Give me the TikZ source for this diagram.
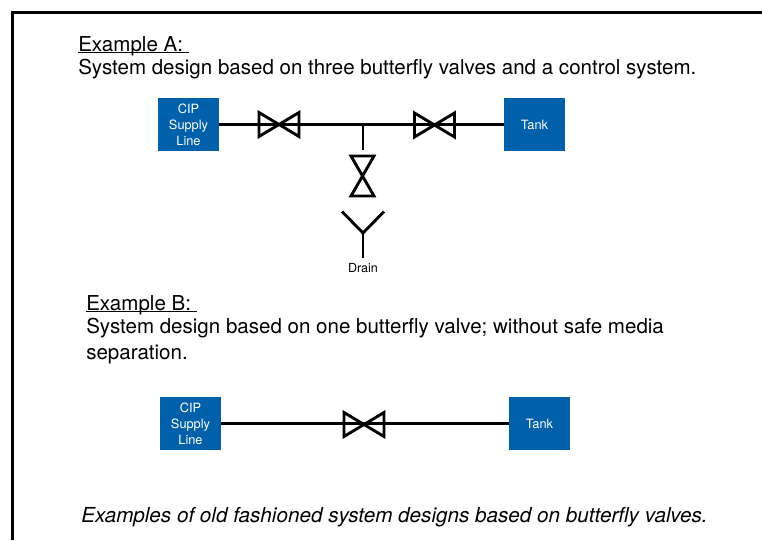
\documentclass[tikz,border=0pt]{standalone}
\usepackage{fontspec}
\setmainfont{TeX Gyre Heros}
\definecolor{boxblue}{RGB}{0,96,170}
\newsavebox{\ulbox}
\newcommand{\ulhead}[1]{\sbox{\ulbox}{#1}\rlap{\rule[-1.6pt]{\wd\ulbox}{0.65pt}}\usebox{\ulbox}}
\newcommand{\ciptext}{\raisebox{-1.5pt}[\height][\depth]{\begin{tabular}{@{}c@{}}CIP\\[0.3pt]Supply\\Line\end{tabular}}}
\tikzset{
  x=0.75pt,y=-0.75pt,
  pipe/.style={line width=2.15pt,black},
  blue box/.style={fill=boxblue,draw=none,minimum width=45.75pt,minimum height=39.75pt,inner sep=0pt,text=white,font=\fontsize{9.6}{12}\selectfont,align=center},
  head/.style={anchor=base west,inner sep=0pt,font=\fontsize{15.4}{18}\selectfont},
  pics/hvalve/.style={code={\draw[pipe,miter limit=3] (-20,-12) -- (20,12) -- (20,-12) -- (-20,12) -- cycle;}},
  pics/vvalve/.style={code={\draw[pipe,miter limit=3] (-11.5,-20) -- (11.5,20) -- (-11.5,20) -- (11.5,-20) -- cycle;}},
}
\begin{document}
\begin{tikzpicture}
\useasboundingbox (0,0) rectangle (762,540);
\draw[line width=2.25pt] (12.5,540) -- (12.5,12.5) -- (762,12.5);

\node[head] (ha) at (78,51) {\ulhead{Example A:\ }};
\node[head] (ta) at (78,74) {System design based on three butterfly valves and a control system.};
\node[head] (hb) at (86,310) {\ulhead{Example B:\ }};
\node[head] (tb1) at (86,333) {System design based on one butterfly valve; without safe media};
\node[head] (tb2) at (86,359) {separation.};
\node[head,font=\fontsize{15.5}{18}\selectfont\itshape] (cap) at (81,522) {Examples of old fashioned system designs based on butterfly valves.};

\node[blue box] (cipa) at (188.5,124.5) {\ciptext};
\node[blue box] (tanka) at (534.5,124.5) {Tank};
\node[blue box] (cipb) at (190.5,423.5) {\ciptext};
\node[blue box] (tankb) at (539.5,423.5) {Tank};

\coordinate (va1) at (279,124.5);
\coordinate (va2) at (434.5,125);
\coordinate (vd) at (362.5,176);
\coordinate (vb) at (364,424.5);
\coordinate (jn) at (363,124.5);
\coordinate (vdtop) at (363,150);
\coordinate (yc) at (363,233);
\coordinate (yl) at (342,211.5);
\coordinate (yr) at (384,211.5);
\node[inner sep=0pt,font=\fontsize{9.4}{11}\selectfont] (drain) at (363,268) {Drain};
\coordinate (ybot) at (363,258);

\draw[pipe] (cipa.east) -- (tanka.west);
\draw[pipe] (cipb.east) -- (tankb.west);
\draw[pipe] (jn) -- (vdtop);
\draw[pipe] (yl) -- (yc) -- (yr);
\draw[pipe] (yc) -- (ybot);
\pic at (va1) {hvalve};
\pic at (va2) {hvalve};
\pic at (vb) {hvalve};
\pic at (vd) {vvalve};
\end{tikzpicture}
\end{document}
